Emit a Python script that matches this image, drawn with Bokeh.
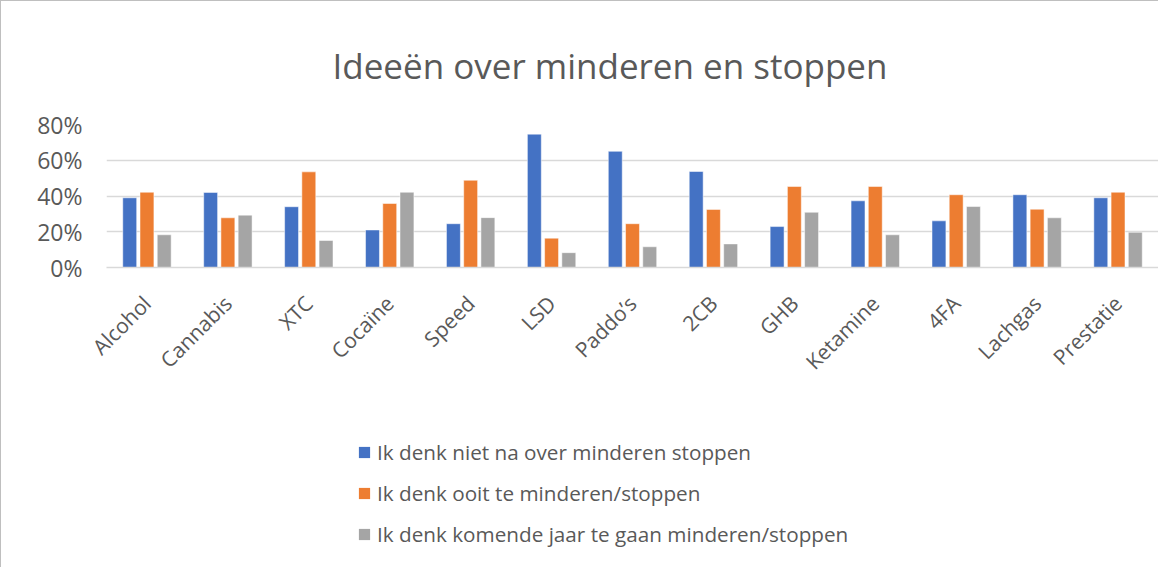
from bokeh.plotting import figure
from bokeh.layouts import column
from bokeh.models import (ColumnDataSource, FactorRange, Range1d, NumeralTickFormatter,
                          FixedTicker, Legend, LegendItem, Title)
from bokeh.transform import dodge
from bokeh.embed import file_html
from bokeh.resources import INLINE
import math

categories = ["Alcohol", "Cannabis", "XTC", "Cocaïne", "Speed", "LSD", "Paddo’s", "2CB",
              "GHB", "Ketamine", "4FA", "Lachgas", "Prestatie"]
niet_na = [0.39, 0.42, 0.34, 0.21, 0.245, 0.746, 0.65, 0.537, 0.229, 0.373, 0.261, 0.407, 0.39]
ooit = [0.421, 0.278, 0.535, 0.358, 0.488, 0.164, 0.245, 0.325, 0.453, 0.453, 0.407, 0.326, 0.421]
komend_jaar = [0.183, 0.293, 0.151, 0.421, 0.279, 0.083, 0.116, 0.132, 0.309, 0.183, 0.341, 0.278, 0.197]
series_names = ["Ik denk niet na over minderen stoppen",
                "Ik denk ooit te minderen/stoppen",
                "Ik denk komende jaar te gaan minderen/stoppen"]
colors = ["#4472C4", "#ED7D31", "#A5A5A5"]
y_ticks = [0, 0.2, 0.4, 0.6, 0.8]

FONT = "Open Sans"
TXT = "#595959"
W = 1157
H1 = 406
H2 = 160

src = ColumnDataSource(dict(cat=categories, a=niet_na, b=ooit, c=komend_jaar))

p = figure(x_range=FactorRange(*categories, range_padding=0), y_range=Range1d(0, 0.8),
           width=W, height=H1, output_backend="svg", toolbar_location=None,
           min_border_left=105, min_border_right=0, min_border_top=123, min_border_bottom=140)
p.x_range.range_padding = 0

for key, off, col in zip(["a", "b", "c"], [-0.213, 0, 0.213], colors):
    p.vbar(x=dodge("cat", off, range=p.x_range), top=key, width=0.172, source=src,
           fill_color=col, line_color="white", line_width=0.5)

p.title = Title(text="Ideeën over minderen en stoppen", align="left", offset=226,
                text_font=FONT, text_font_size="35px", text_font_style="normal",
                text_color=TXT, standoff=72)

p.outline_line_color = None
p.xgrid.grid_line_color = None
p.ygrid.grid_line_color = "#d9d9d9"
p.ygrid.grid_line_width = 1.5

p.yaxis.ticker = FixedTicker(ticks=y_ticks)
p.yaxis.formatter = NumeralTickFormatter(format="0%")
p.yaxis.axis_line_color = None
p.yaxis.major_tick_line_color = None
p.yaxis.minor_tick_line_color = None
p.yaxis.major_label_text_font = FONT
p.yaxis.major_label_text_font_size = "23px"
p.yaxis.major_label_text_color = TXT
p.yaxis.major_label_standoff = 18

p.xaxis.axis_line_color = "#d9d9d9"
p.xaxis.axis_line_width = 1.5
p.xaxis.major_tick_line_color = None
p.xaxis.minor_tick_line_color = None
p.xaxis.major_label_orientation = math.pi / 4
p.xaxis.major_label_text_font = FONT
p.xaxis.major_label_text_font_size = "21px"
p.xaxis.major_label_text_color = TXT
p.xaxis.major_label_standoff = 26

# legend panel below the chart
pl = figure(x_range=Range1d(0, 1), y_range=Range1d(0, 1), width=W, height=H2,
            output_backend="svg", toolbar_location=None,
            x_axis_location=None, y_axis_location=None,
            min_border_left=0, min_border_right=0, min_border_top=0, min_border_bottom=0)
pl.grid.visible = False
pl.outline_line_color = None
keys = []
for col in colors:
    keys.append(pl.vbar(x=[-1], top=[0], width=0.1, fill_color=col, line_color=None))

legend = Legend(items=[LegendItem(label=n, renderers=[r]) for n, r in zip(series_names, keys)],
                orientation="vertical", location=(251, 18))
legend.label_text_font = FONT
legend.label_text_font_size = "20.7px"
legend.label_text_color = TXT
legend.glyph_width = 14
legend.glyph_height = 14
legend.label_height = 30
legend.spacing = 11
legend.label_standoff = 6
legend.border_line_color = None
legend.background_fill_alpha = 0
legend.padding = 0
legend.margin = 0
pl.add_layout(legend, "center")

layout = column(p, pl, spacing=0,
                styles={"border-top": "1px solid #bfbfbf", "border-left": "1px solid #bfbfbf"})

open("out.html", "w").write(file_html(layout, INLINE))
